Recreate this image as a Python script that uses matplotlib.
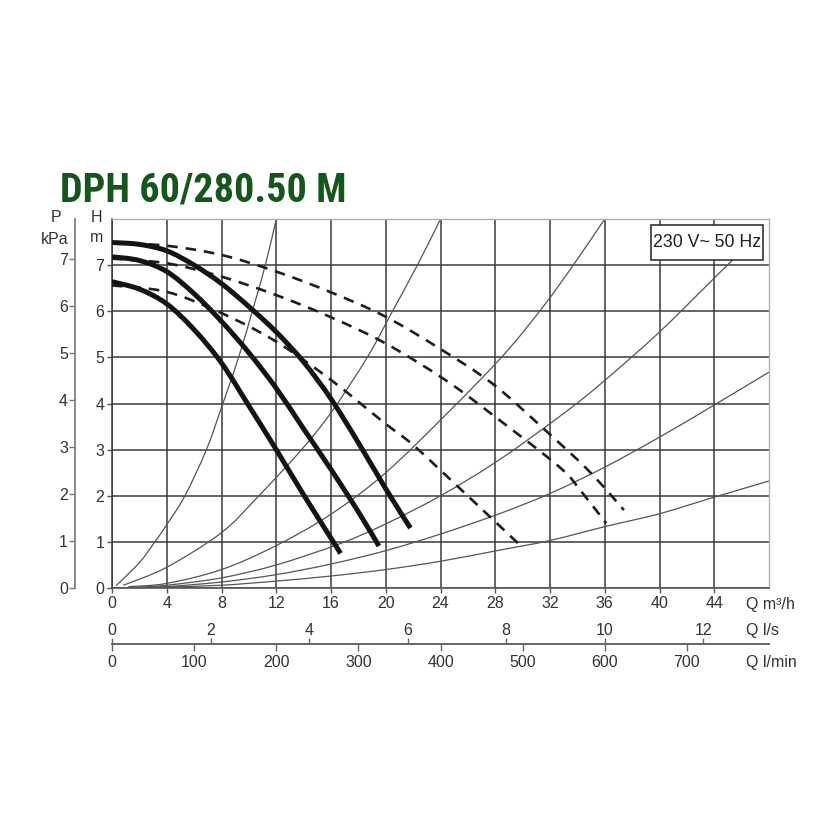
import matplotlib
matplotlib.use("Agg")
import matplotlib.pyplot as plt
from matplotlib import font_manager
from matplotlib.path import Path
from matplotlib.patches import PathPatch, Rectangle

names = {f.name for f in font_manager.fontManager.ttflist}
base_font = "Liberation Sans" if "Liberation Sans" in names else "DejaVu Sans"
title_font = next((n for n in ["Liberation Sans Narrow", "Roboto Condensed",
                               "DejaVu Sans Condensed", "Liberation Sans"] if n in names),
                  "DejaVu Sans")
plt.rcParams["font.family"] = [base_font, "DejaVu Sans"]

# ---------------- data ----------------
title = "DPH 60/280.50 M"
supply = "230 V~ 50 Hz"

q_ticks = [0, 4, 8, 12, 16, 20, 24, 28, 32, 36, 40, 44]
ls_ticks = [0, 2, 4, 6, 8, 10, 12]
lmin_ticks = [0, 100, 200, 300, 400, 500, 600, 700]
h_ticks = [0, 1, 2, 3, 4, 5, 6, 7]
p_ticks = [0, 1, 2, 3, 4, 5, 6, 7]

# pump curves (Q m3/h, H m) - solid = speed curves
top_q = [0, 2, 4, 6, 8, 10, 12, 14, 16, 18, 20, 21.8]
top_h = [7.49, 7.45, 7.31, 7.0, 6.6, 6.1, 5.55, 4.9, 4.1, 3.15, 2.15, 1.3]
mid_q = [0, 2, 4, 6, 8, 10, 12, 14, 16, 18, 19.5]
mid_h = [7.18, 7.1, 6.86, 6.38, 5.78, 5.1, 4.33, 3.45, 2.57, 1.65, 0.91]
low_q = [0, 2, 4, 6, 8, 10, 12, 14, 16, 16.7]
low_h = [6.64, 6.48, 6.16, 5.6, 4.88, 3.95, 3.0, 2.02, 1.08, 0.75]

# dashed curves
d1_q = [0, 4, 8, 12, 16, 20, 24, 27.8, 31.4, 34.8, 37.4]
d1_h = [7.49, 7.42, 7.22, 6.86, 6.41, 5.88, 5.18, 4.43, 3.49, 2.55, 1.69]
d2_q = [0, 4, 8, 12, 16, 20, 24.4, 28, 32.7, 34.4, 36.1]
d2_h = [7.14, 7.04, 6.75, 6.35, 5.87, 5.3, 4.5, 3.71, 2.62, 2.05, 1.4]
d3_q = [0, 4, 8, 12, 16, 19.9, 22, 25.3, 29.7]
d3_h = [6.56, 6.42, 5.96, 5.34, 4.51, 3.58, 3.1, 2.19, 0.96]

# system curves (thin)
s1_q = [0.3, 2, 3.13, 4.06, 5.33, 6.9, 8.1, 9.25, 10.25, 11.2, 12.0]
s1_h = [0.05, 0.55, 1.0, 1.4, 2.0, 3.0, 4.0, 5.0, 6.0, 7.0, 8.0]
s2_q = [0.83, 4, 8, 10.57, 13.7, 16, 18.65, 20.4, 22.4, 24]
s2_h = [0.06, 0.45, 1.2, 1.95, 2.95, 3.8, 5.0, 5.95, 7.05, 8.0]
s3_q = [1.2, 4, 8, 12, 16, 20, 24.7, 28.6, 31.5, 33.7, 36]
s3_h = [0.03, 0.1, 0.4, 0.92, 1.6, 2.5, 3.85, 5.05, 6.1, 7.0, 8.0]
s4_q = [1.5, 4, 8, 12, 16.65, 20, 24, 28.3, 33.2, 36, 40, 43.9, 47]
s4_h = [0.01, 0.06, 0.22, 0.5, 0.96, 1.39, 2.0, 2.78, 3.83, 4.5, 5.55, 6.69, 7.6]
s5_q = [2, 4, 8, 12, 16, 20, 24, 28.3, 32, 36, 40, 43.9, 48]
s5_h = [0.01, 0.03, 0.13, 0.29, 0.52, 0.81, 1.17, 1.61, 2.05, 2.62, 3.27, 3.95, 4.68]
s6_q = [3, 4, 8, 12, 16, 20, 24, 28.3, 32, 36, 40, 43.9, 48]
s6_h = [0.01, 0.02, 0.06, 0.15, 0.26, 0.4, 0.58, 0.82, 1.03, 1.33, 1.61, 1.96, 2.32]


def smooth_path(q, h):
    """Cubic (Catmull-Rom style) Bezier path through the read points."""
    pts = list(zip(q, h))
    n = len(pts)
    verts = [pts[0]]
    codes = [Path.MOVETO]
    for i in range(n - 1):
        p0 = pts[i - 1] if i > 0 else pts[i]
        p1, p2 = pts[i], pts[i + 1]
        p3 = pts[i + 2] if i + 2 < n else pts[i + 1]
        c1 = (p1[0] + (p2[0] - p0[0]) / 6, p1[1] + (p2[1] - p0[1]) / 6)
        c2 = (p2[0] - (p3[0] - p1[0]) / 6, p2[1] - (p3[1] - p1[1]) / 6)
        verts += [c1, c2, p2]
        codes += [Path.CURVE4] * 3
    return Path(verts, codes)


# ---------------- figure ----------------
W, H = 840, 840
fig = plt.figure(figsize=(8.4, 8.4), dpi=100)
L, R, B, T = 112, 769, 588, 219
ax = fig.add_axes([L / W, 1 - B / H, (R - L) / W, (B - T) / H])
ax.set_xlim(0, 48)
ax.set_ylim(0, 8)

grid_c = "#3a3a3a"
for x in q_ticks:
    ax.axvline(x, color=grid_c, lw=1.1, zorder=1)
for y in h_ticks:
    ax.axhline(y, color=grid_c, lw=1.1, zorder=1)

for sp in ["top", "right"]:
    ax.spines[sp].set_color("#b0b0b0")
    ax.spines[sp].set_linewidth(1.0)
ax.spines["left"].set_color(grid_c)
ax.spines["bottom"].set_color("#555555")
ax.spines["left"].set_linewidth(1.1)
ax.spines["bottom"].set_linewidth(1.2)

thin_c = "#555555"
for q, h in [(s1_q, s1_h), (s2_q, s2_h), (s3_q, s3_h), (s4_q, s4_h), (s5_q, s5_h), (s6_q, s6_h)]:
    ax.add_patch(PathPatch(smooth_path(q, h), fill=False, ec=thin_c, lw=0.9, zorder=2))

for q, h in [(d1_q, d1_h), (d2_q, d2_h), (d3_q, d3_h)]:
    ax.add_patch(PathPatch(smooth_path(q, h), fill=False, ec="#1e1e1e", lw=1.9,
                           ls=(0, (4, 3)), capstyle="butt", zorder=3))

for q, h in [(top_q, top_h), (mid_q, mid_h), (low_q, low_h)]:
    ax.add_patch(PathPatch(smooth_path(q, h), fill=False, ec="#141414", lw=3.6,
                           capstyle="butt", joinstyle="round", zorder=4))

ax.set_xticks(q_ticks)
ax.set_yticks(h_ticks)
ax.tick_params(axis="both", direction="out", length=3.5, width=1, color="#555555",
               labelsize=11.5, labelcolor="#333333")
ax.tick_params(axis="x", pad=2)
ax.tick_params(axis="y", pad=2)

# pressure axis (P kPa) on the left
secy = ax.secondary_yaxis(-37 / (R - L), functions=(lambda h: h * 0.981, lambda p: p / 0.981))
secy.set_yticks(p_ticks)
secy.spines["left"].set_color("#777777")
secy.spines["left"].set_linewidth(1.2)
secy.tick_params(direction="out", length=4, width=1, color="#777777",
                 labelsize=11.5, labelcolor="#333333", pad=1)

# flow scales below
loc = -(644 - B) / (B - T)
sec_ls = ax.secondary_xaxis(loc, functions=(lambda q: q / 3.6, lambda s: s * 3.6))
sec_ls.set_alignment("top")
sec_ls.set_xticks(ls_ticks)
sec_ls.spines["top"].set_color("#666666")
sec_ls.spines["top"].set_linewidth(1.2)
sec_ls.tick_params(direction="out", length=4, width=1, color="#666666",
                   labelsize=11.5, labelcolor="#333333", pad=0.5)

sec_lm = ax.secondary_xaxis(loc, functions=(lambda q: q * 1000 / 60, lambda m: m * 60 / 1000))
sec_lm.set_xticks(lmin_ticks)
sec_lm.spines["bottom"].set_color("#666666")
sec_lm.spines["bottom"].set_linewidth(1.2)
sec_lm.tick_params(direction="out", length=5, width=1, color="#666666",
                   labelsize=11.5, labelcolor="#333333", pad=3)

# axis names
tc = "#333333"
fs = 11.5
fig.text(746 / W, 1 - 604 / H, "Q m³/h", fontsize=fs, color=tc, va="center", ha="left")
fig.text(746 / W, 1 - 630 / H, "Q l/s", fontsize=fs, color=tc, va="center", ha="left")
fig.text(746 / W, 1 - 663 / H, "Q l/min", fontsize=fs, color=tc, va="center", ha="left")
fig.text(97 / W, 1 - 217 / H, "H", fontsize=fs, color=tc, va="center", ha="center")
fig.text(97 / W, 1 - 238 / H, "m", fontsize=fs, color=tc, va="center", ha="center")
fig.text(56 / W, 1 - 217 / H, "P", fontsize=fs, color=tc, va="center", ha="center")
fig.text(55 / W, 1 - 240 / H, "kPa", fontsize=fs, color=tc, va="center", ha="center")

# supply box
bx0, bx1, by0, by1 = 651, 763, 225, 260
ax.add_patch(Rectangle(((bx0 - L) / (R - L), (B - by1) / (B - T)),
                       (bx1 - bx0) / (R - L), (by1 - by0) / (B - T),
                       transform=ax.transAxes, fc="white", ec="#333333", lw=1.2,
                       zorder=6, clip_on=False))
ax.text(((bx0 + bx1) / 2 - L) / (R - L), (B - (by0 + by1) / 2) / (B - T), supply,
        transform=ax.transAxes, fontsize=12.8, color="#222222",
        ha="center", va="center", zorder=7)

# title
t = fig.text(60 / W, 1 - 202 / H, title, fontsize=34, fontweight="bold",
             family=[title_font, "DejaVu Sans"], color="#15561d",
             ha="left", va="baseline")
fig.canvas.draw()
bb = t.get_window_extent()
if bb.width > 287:
    t.set_fontsize(34 * 287 / bb.width)

fig.savefig("out.png", dpi=100, facecolor="white")
